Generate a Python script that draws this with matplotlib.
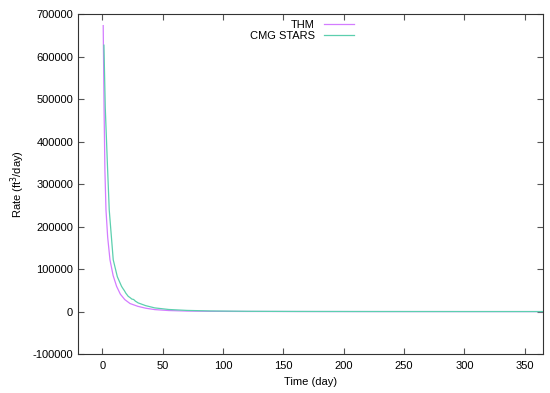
import numpy as np
import matplotlib.pyplot as plt

plt.rcParams['font.family'] = ['Liberation Sans', 'DejaVu Sans']
plt.rcParams['axes.unicode_minus'] = False

# THM simulated rate
thm_time = [0.8, 1.5, 2.2, 3.1, 4.5, 6.4, 9.0, 11.9, 15.0, 18.7, 23.0, 29.5, 36.0, 43.5, 55, 70, 90, 120, 180, 260, 365]
thm_rate = [673000, 480000, 333000, 239000, 175000, 122000, 85000, 59400, 41000, 28200, 19000, 12400, 8000, 4700, 2500, 1300, 600, 300, 120, 50, 20]

# CMG STARS rate (slightly noisy between 15 and 30 days)
cmg_time = [1.4, 2.5, 4.3, 5.8, 9.1, 12.5, 16.0, 17.2, 18.4, 19.5, 21.5, 23.0, 24.5, 26.0, 27.5, 29.8, 36.0, 43.5, 55, 70, 90, 120, 160, 220, 300, 365]
cmg_rate = [627000, 480000, 345000, 239000, 122000, 82000, 59400, 54000, 49000, 43500, 36000, 33000, 29500, 28500, 24500, 20400, 14000, 8700, 5000, 2800, 1500, 700, 350, 180, 100, 80]

fig, ax = plt.subplots(figsize=(5.5, 3.93), dpi=100)
fig.subplots_adjust(left=0.142, right=0.987, bottom=0.099, top=0.964)

ax.plot(thm_time, thm_rate, color='#d37cff', lw=0.9, label='THM')
ax.plot(cmg_time, cmg_rate, color='#5ccfae', lw=0.9, label='CMG STARS')

ax.set_xlim(-20, 365)
ax.set_ylim(-100000, 700000)
ax.set_xticks(np.arange(0, 351, 50))
ax.set_yticks(np.arange(-100000, 700001, 100000))
ax.tick_params(direction='in', top=True, right=True, labelsize=8, length=4, color='#555555')
ax.tick_params(axis='x', pad=5)
for s in ax.spines.values():
    s.set_color('#333333')

ax.set_xlabel('Time (day)', fontsize=8, labelpad=4)
ax.set_ylabel('Rate (ft$^3$/day)', fontsize=8)

ax.legend(loc='upper right', bbox_to_anchor=(0.612, 1.008), frameon=False, fontsize=8,
          markerfirst=False, handlelength=2.7, labelspacing=0.05, borderpad=0.3)

fig.savefig('out.png', dpi=100)
